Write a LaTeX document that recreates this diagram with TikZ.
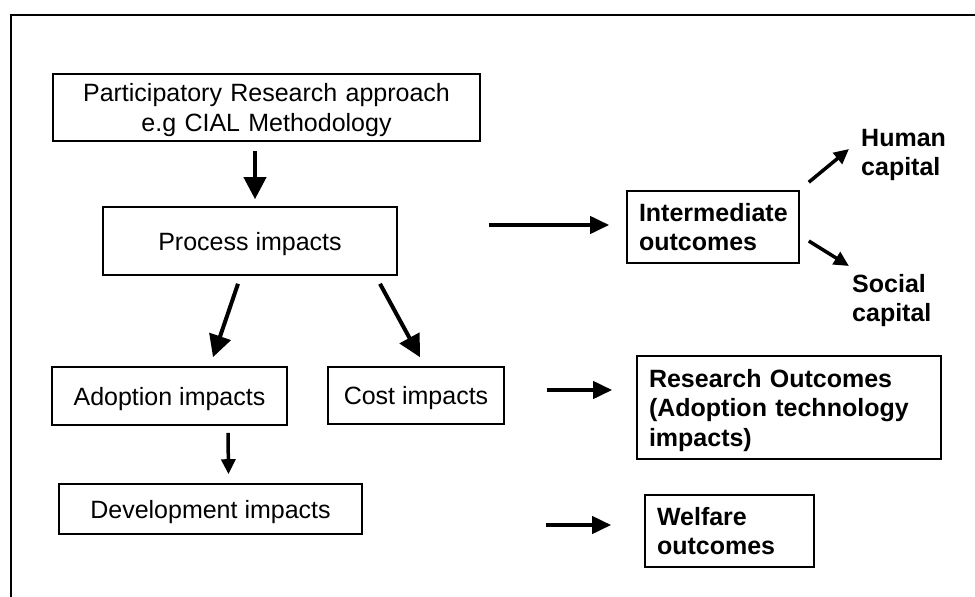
\documentclass[tikz,border=0pt]{standalone}
\usepackage{fontspec}
\setmainfont{Liberation Sans}
\usetikzlibrary{arrows.meta,calc}
\begin{document}
\begin{tikzpicture}[x=1pt,y=-1pt,
  every node/.style={font=\fontsize{25}{29.5}\selectfont},
  % centred plain-text boxes
  cbox/.style={draw, line width=1.6pt, inner sep=0pt, align=center,
    text height=18pt, text depth=0pt},
  % left-aligned bold boxes on the outcome side
  lbox/.style={draw, line width=1.6pt, inner xsep=12pt, inner ysep=0pt,
    align=left, text height=18pt, text depth=0pt,
    font=\fontsize{25}{29.5}\selectfont\bfseries},
  lbl/.style={inner sep=0pt, align=left, text width=100pt,
    text height=18pt, text depth=29.5pt,
    font=\fontsize{25}{29.5}\selectfont\bfseries},
  bigarr/.style={line width=4pt, -{Triangle[length=22pt,width=22pt]}},
  midarr/.style={line width=4pt, -{Triangle[length=19pt,width=17pt]}},
  smallarr/.style={line width=3.5pt, -{Triangle[length=15pt,width=14pt]}}
]
\useasboundingbox (0,0) rectangle (975,597);

% frame
\draw[line width=2.5pt] (11,597) -- (11,15) -- (975,15);

% impact chain
\node[cbox, minimum width=427pt, minimum height=67pt, text width=410pt,
  text depth=29.5pt] (part) at (266.5,107.5)
  {Participatory Research approach\\e.g CIAL Methodology};
\node[cbox, minimum width=294pt, minimum height=68pt] (proc) at (250,241)
  {Process impacts};
\node[cbox, minimum width=235pt, minimum height=58pt] (adopt) at (169.5,396)
  {Adoption impacts};
\node[cbox, minimum width=176pt, minimum height=57pt] (cost) at (416,395.5)
  {Cost impacts};
\node[cbox, minimum width=303pt, minimum height=50pt] (dev) at (210.5,509)
  {Development impacts};

% outcomes
\node[lbox, minimum width=172pt, minimum height=72pt, text width=148pt,
  text depth=29.5pt] (inter) at (713,227) {Intermediate\\outcomes};
\node[lbox, minimum width=304pt, minimum height=103pt, text width=280pt,
  text depth=59pt] (res) at (789,407.5)
  {Research Outcomes\\(Adoption technology\\impacts)};
\node[lbox, minimum width=169pt, minimum height=72pt, text width=145pt,
  text depth=29.5pt] (welf) at (729.5,531) {Welfare\\outcomes};

\node[lbl, anchor=north west] (human) at (861,128) {Human\\capital};
\node[lbl, anchor=north west] (social) at (852,274) {Social\\capital};

% connectors
\draw[bigarr] ([shift={(-11.5,9)}]part.south) -- ([shift={(5,-7)}]proc.north);
\draw[bigarr] ([shift={(-12,8)}]proc.south) -- ([shift={(43.5,-9)}]adopt.north);
\draw[bigarr] ([shift={(130,8)}]proc.south) -- ([shift={(4,-9)}]cost.north);
\draw[smallarr] ([shift={(58.5,7)}]adopt.south) -- ([shift={(18,-9)}]dev.north);

\draw[midarr] ([shift={(91,-16)}]proc.east) -- ([shift={(-17,-2)}]inter.west);
\draw[midarr] ([shift={(42,-5.5)}]cost.east) -- ([shift={(-24,-17.5)}]res.west);
\draw[midarr] ([shift={(183,16)}]dev.east) -- ([shift={(-33,-6)}]welf.west);

\draw[smallarr] ([shift={(9,-8)}]inter.north east) -- ([shift={(-12,21)}]human.north west);
\draw[smallarr] ([shift={(9,14)}]inter.east) -- ([shift={(-3,-8)}]social.north west);
\end{tikzpicture}
\end{document}
